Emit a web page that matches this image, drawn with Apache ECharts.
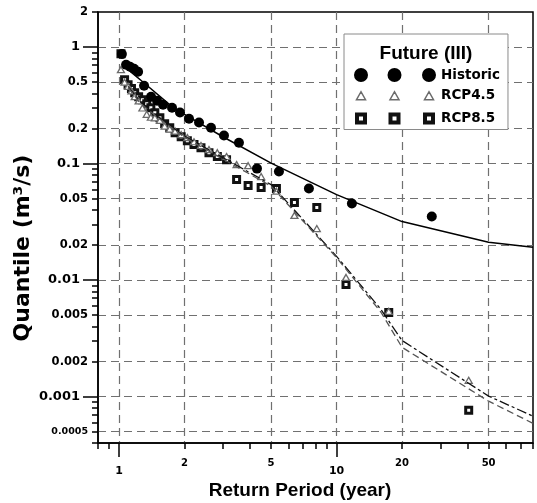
<!DOCTYPE html>
<html>
<head>
<meta charset="utf-8">
<script src="https://cdn.jsdelivr.net/npm/echarts@6/dist/echarts.min.js"></script>
<style>
html, body { margin: 0; padding: 0; background: #fff; }
#chart { width: 537px; height: 503px; }
</style>
</head>
<body>
<div id="chart"></div>
<script>
"use strict";

// observed quantiles (return period in years, quantile in m3/s)
var histT = [1.03, 1.077, 1.123, 1.172, 1.223, 1.303, 1.403, 1.495, 1.593, 1.752, 1.906, 2.097, 2.331, 2.646, 3.036, 3.557, 4.305, 5.433, 7.46, 11.76, 27.4];
var histQ = [0.87, 0.705, 0.678, 0.652, 0.614, 0.466, 0.375, 0.347, 0.32, 0.302, 0.274, 0.243, 0.225, 0.203, 0.174, 0.151, 0.0906, 0.0854, 0.0611, 0.0454, 0.0351];

var rcpT = [1.02, 1.06, 1.10, 1.14, 1.18, 1.23, 1.28, 1.34, 1.40, 1.46, 1.54, 1.62, 1.71, 1.81, 1.93, 2.06, 2.21, 2.38, 2.59, 2.83, 3.12, 3.47, 3.92, 4.50, 5.29, 6.40, 8.11, 11.05, 17.37, 40.5];
var rcp45Q = [0.64, 0.50, 0.46, 0.42, 0.375, 0.345, 0.30, 0.265, 0.25, 0.247, 0.235, 0.21, 0.198, 0.19, 0.177, 0.167, 0.154, 0.143, 0.132, 0.124, 0.115, 0.098, 0.096, 0.0774, 0.058, 0.0359, 0.0277, 0.01054, 0.0054, 0.00138];
var rcp85Q = [0.876, 0.525, 0.475, 0.44, 0.406, 0.375, 0.353, 0.327, 0.302, 0.273, 0.248, 0.220, 0.203, 0.184, 0.170, 0.157, 0.146, 0.137, 0.124, 0.115, 0.108, 0.0729, 0.0648, 0.0623, 0.0611, 0.0463, 0.042, 0.00918, 0.00528, 0.000764];

// fitted curves
var histFitT = [1.1, 1.3, 1.75, 2, 3, 5, 10, 20, 50, 80];
var histFitQ = [0.64, 0.494, 0.308, 0.264, 0.17, 0.101, 0.0542, 0.0318, 0.0211, 0.0191];
var rcpFitT = [1.1, 1.25, 1.5, 2, 5, 10, 16, 20, 50, 80];
var rcp45FitQ = [0.46, 0.34, 0.255, 0.172, 0.066, 0.016, 0.0056, 0.00303, 0.00101, 0.00068];
var rcp85FitQ = [0.45, 0.33, 0.25, 0.168, 0.064, 0.0156, 0.0053, 0.00265, 0.000914, 0.00059];

// axes
var xRange = [0.8, 80];
var yRange = [0.0004, 2];
var xGrid = [1, 2, 5, 10, 20, 50];
var xMinorTicks = [0.8, 0.9, 2, 3, 4, 5, 6, 7, 8, 9, 20, 30, 40, 50, 60, 70, 80];
var xMinorLabels = [2, 5, 20, 50];
var xMajorTicks = [1, 10];
var yGrid = [0.0005, 0.001, 0.002, 0.005, 0.01, 0.02, 0.05, 0.1, 0.2, 0.5, 1];
var yMinorTicks = [0.0004, 0.0005, 0.0006, 0.0007, 0.0008, 0.0009, 0.002, 0.003, 0.004, 0.005, 0.006, 0.007, 0.008, 0.009,
    0.02, 0.03, 0.04, 0.05, 0.06, 0.07, 0.08, 0.09, 0.2, 0.3, 0.4, 0.5, 0.6, 0.7, 0.8, 0.9, 2];
var yMinorLabels = [0.0005, 0.002, 0.005, 0.02, 0.05, 0.2, 0.5, 2];
var yMajorTicks = [0.001, 0.01, 0.1, 1];

var lg = Math.log10;

function pairs(xs, ys) {
    return xs.map(function (x, i) { return [lg(x), lg(ys[i])]; });
}

function fmt(v) {
    var s = String(+Math.pow(10, v).toPrecision(3));
    return s === '0.0005' ? '{s|' + s + '}' : s;
}

var lblFont = { fontFamily: 'DejaVu Sans', fontWeight: 'bold', color: '#000' };
var tickLine = { color: '#000', width: 1.5 };

function axis(range, extra) {
    var a = {
        type: 'value',
        min: lg(range[0]),
        max: lg(range[1]),
        axisLine: { show: false, onZero: false },
        axisTick: { show: false },
        axisLabel: { show: false },
        splitLine: { show: false }
    };
    for (var k in extra) a[k] = extra[k];
    return a;
}

var circles3 = 'path://M0,7A7,7,0,1,1,14,7A7,7,0,1,1,0,7Z M33.5,7A7,7,0,1,1,47.5,7A7,7,0,1,1,33.5,7Z M68,7A7,7,0,1,1,82,7A7,7,0,1,1,68,7Z';
var triangles3 = 'path://M0,0 M82,14 M2.5,11L11.5,11L7,3Z M36,11L45,11L40.5,3Z M70.5,11L79.5,11L75,3Z';
var squares3 = 'path://M0,0 M82,14 M3,3L11,3L11,11L3,11Z M36.5,3L44.5,3L44.5,11L36.5,11Z M71,3L79,3L79,11L71,11Z';

var dom = document.getElementById('chart');
var myChart = echarts.init(dom, null, { renderer: 'canvas' });

var option = {
    animation: false,
    backgroundColor: '#fff',
    grid: {
        left: 98, right: 4, top: 12, bottom: 60,
        containLabel: false,
        outerBoundsMode: 'none',
        show: true,
        borderColor: '#000',
        borderWidth: 1.5
    },
    xAxis: [
        axis(xRange, {
            position: 'bottom',
            axisLine: { show: true, onZero: false, lineStyle: { color: '#000', width: 1.5 } },
            axisTick: { show: false, customValues: xGrid.map(lg) },
            splitLine: { show: true, lineStyle: { color: '#707070', width: 1.2, type: [8, 5] } }
        }),
        axis(xRange, {
            position: 'bottom',
            axisTick: { show: true, length: 6, customValues: xMinorTicks.map(lg), lineStyle: tickLine },
            axisLabel: Object.assign({ show: true, margin: 15, fontSize: 10, customValues: xMinorLabels.map(lg), formatter: fmt }, lblFont)
        }),
        axis(xRange, {
            position: 'bottom',
            axisTick: { show: true, length: 14, customValues: xMajorTicks.map(lg), lineStyle: tickLine },
            axisLabel: Object.assign({ show: true, margin: 23, fontSize: 11, customValues: xMajorTicks.map(lg), formatter: fmt }, lblFont)
        })
    ],
    yAxis: [
        axis(yRange, {
            position: 'left',
            axisLine: { show: true, onZero: false, lineStyle: { color: '#000', width: 1.5 } },
            axisTick: { show: true, length: 0, customValues: yGrid.map(lg) },
            splitLine: { show: true, lineStyle: { color: '#707070', width: 1.2, type: [8, 5] } }
        }),
        axis(yRange, {
            position: 'left',
            axisTick: { show: true, length: 6, customValues: yMinorTicks.map(lg), lineStyle: tickLine },
            axisLabel: Object.assign({
                show: true, margin: 10, fontSize: 11.5, customValues: yMinorLabels.map(lg), formatter: fmt,
                rich: { s: { fontFamily: 'DejaVu Sans', fontWeight: 'bold', fontSize: 9.5, color: '#000' } }
            }, lblFont)
        }),
        axis(yRange, {
            position: 'left',
            axisTick: { show: true, length: 15, customValues: yMajorTicks.map(lg), lineStyle: tickLine },
            axisLabel: Object.assign({ show: true, margin: 18, fontSize: 13, customValues: yMajorTicks.map(lg), formatter: fmt }, lblFont)
        })
    ],
    legend: {
        orient: 'vertical',
        left: 344,
        top: 34,
        padding: [34, 8, 2, 8],
        itemWidth: 82,
        itemHeight: 14,
        itemGap: 6,
        itemTextGap: 7,
        backgroundColor: '#fff',
        borderColor: '#8a8a8a',
        borderWidth: 1,
        borderRadius: 0,
        selectedMode: false,
        textStyle: { fontFamily: 'DejaVu Sans', fontWeight: 'bold', fontSize: 13.5, color: '#000' },
        data: [
            { name: 'Historic', icon: circles3, itemStyle: { color: '#000', borderWidth: 0 } },
            { name: 'RCP4.5', icon: triangles3, itemStyle: { color: '#fff', borderColor: '#6b6b6b', borderWidth: 1.5 } },
            { name: 'RCP8.5', icon: squares3, itemStyle: { color: '#fff', borderColor: '#111', borderWidth: 4 } }
        ]
    },
    graphic: [
        {
            type: 'text', x: 23, y: 248, rotation: Math.PI / 2, z: 100,
            style: { text: 'Quantile (m³/s)', fontFamily: 'DejaVu Sans', fontWeight: 'bold', fontSize: 22, fill: '#000', align: 'center', verticalAlign: 'middle' }
        },
        {
            type: 'text', x: 300, y: 491, z: 100,
            style: { text: 'Return Period (year)', fontFamily: 'Liberation Sans', fontWeight: 'bold', fontSize: 19, fill: '#000', align: 'center', verticalAlign: 'middle' }
        },
        {
            type: 'text', x: 426, y: 54, z: 100,
            style: { text: 'Future (III)', fontFamily: 'Liberation Sans', fontWeight: 'bold', fontSize: 19, fill: '#000', align: 'center', verticalAlign: 'middle' }
        }
    ],
    series: [
        {
            name: 'Historic fit', type: 'line', silent: true, showSymbol: false,
            data: pairs(histFitT, histFitQ),
            lineStyle: { color: '#000', width: 1.5, type: 'solid' }
        },
        {
            name: 'RCP4.5 fit', type: 'line', silent: true, showSymbol: false,
            data: pairs(rcpFitT, rcp45FitQ),
            lineStyle: { color: '#111', width: 1.3, type: [10, 3, 3, 3] }
        },
        {
            name: 'RCP8.5 fit', type: 'line', silent: true, showSymbol: false,
            data: pairs(rcpFitT, rcp85FitQ),
            lineStyle: { color: '#555', width: 1.3, type: [7, 4] }
        },
        {
            name: 'RCP8.5', type: 'scatter', symbol: 'rect', symbolSize: 6,
            data: pairs(rcpT, rcp85Q),
            itemStyle: { color: '#fff', borderColor: '#111', borderWidth: 3, opacity: 1 }
        },
        {
            name: 'RCP4.5', type: 'scatter', symbol: 'triangle', symbolSize: [7, 6],
            data: pairs(rcpT, rcp45Q),
            itemStyle: { color: '#fff', borderColor: '#6b6b6b', borderWidth: 1.3, opacity: 1 }
        },
        {
            name: 'Historic', type: 'scatter', symbol: 'circle', symbolSize: 10,
            data: pairs(histT, histQ),
            itemStyle: { color: '#000', opacity: 1 }
        }
    ]
};

if (option && typeof option === 'object') {
    myChart.setOption(option);
}
</script>
</body>
</html>
